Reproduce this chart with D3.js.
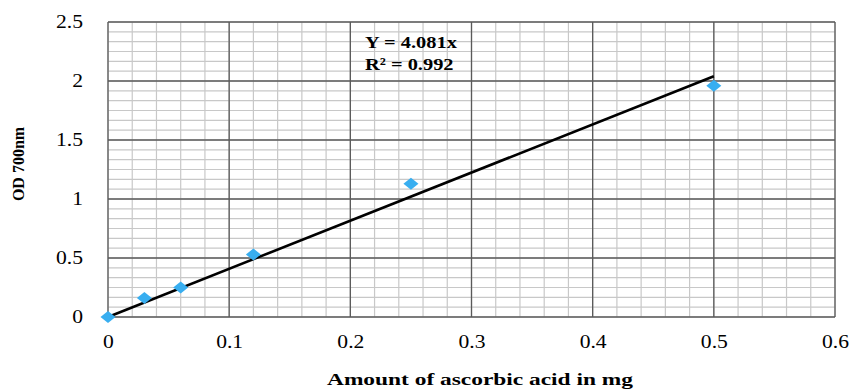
<!DOCTYPE html>
<html>
<head>
<meta charset="utf-8">
<script src="https://cdn.jsdelivr.net/npm/d3@7"></script>
<style>
  body { margin: 0; background: #fff; }
  svg { display: block; }
  text { font-family: "Liberation Serif", "Times New Roman", serif; fill: #000; }
</style>
</head>
<body>
<svg id="chart"></svg>
<script>
const width = 853;
const height = 390;

// data
const amounts = [0, 0.03, 0.06, 0.12, 0.25, 0.5];
const odValues = [0, 0.16, 0.25, 0.53, 1.13, 1.96];
const slope = 4.081;
const xTicks = [0, 0.1, 0.2, 0.3, 0.4, 0.5, 0.6];
const yTicks = [0, 0.5, 1, 1.5, 2, 2.5];
const eqLines = ["Y = 4.081x", "R\u00b2 = 0.992"];

const margin = { top: 22, right: 18, bottom: 73, left: 108 };
const stretch = 1.2; // the picture is a bit wider than tall

const svg = d3.select("#chart").attr("width", width).attr("height", height);

const x = d3.scaleLinear().domain([0, 0.6]).range([margin.left, width - margin.right]);
const y = d3.scaleLinear().domain([0, 2.5]).range([height - margin.bottom, margin.top]);

const plot = svg.append("g");

// minor grid
const xMinor = d3.range(0, 0.6001, 0.02);
const yMinor = d3.range(0, 2.5001, 0.5 / 6);

plot.append("g")
  .selectAll("line")
  .data(xMinor)
  .join("line")
  .attr("x1", (d) => x(d))
  .attr("x2", (d) => x(d))
  .attr("y1", y(0))
  .attr("y2", y(2.5))
  .attr("stroke", "#c8c8c8")
  .attr("stroke-width", 1.2);

plot.append("g")
  .selectAll("line")
  .data(yMinor)
  .join("line")
  .attr("x1", x(0))
  .attr("x2", x(0.6))
  .attr("y1", (d) => y(d))
  .attr("y2", (d) => y(d))
  .attr("stroke", "#c8c8c8")
  .attr("stroke-width", 1.2);

// major grid
plot.append("g")
  .selectAll("line")
  .data(xTicks)
  .join("line")
  .attr("x1", (d) => x(d))
  .attr("x2", (d) => x(d))
  .attr("y1", y(0))
  .attr("y2", y(2.5))
  .attr("stroke", "#5a5a5a")
  .attr("stroke-width", 1.3);

plot.append("g")
  .selectAll("line")
  .data(yTicks)
  .join("line")
  .attr("x1", x(0))
  .attr("x2", x(0.6))
  .attr("y1", (d) => y(d))
  .attr("y2", (d) => y(d))
  .attr("stroke", "#5a5a5a")
  .attr("stroke-width", 1.3);

// axes (labels only, grid handles the lines)
const xAxis = svg.append("g")
  .attr("transform", `translate(0,${y(0)})`)
  .call(d3.axisBottom(x).tickValues(xTicks).tickSize(0).tickPadding(0).tickFormat(d3.format("")));
xAxis.select(".domain").remove();
xAxis.selectAll("text")
  .attr("font-size", 18)
  .attr("font-family", "Liberation Serif")
  .attr("dy", null)
  .attr("y", 31)
  .attr("transform", `scale(${stretch},1)`);

const yAxis = svg.append("g")
  .attr("transform", `translate(${margin.left},0)`)
  .call(d3.axisLeft(y).tickValues(yTicks).tickSize(0).tickPadding(0).tickFormat(d3.format("")));
yAxis.select(".domain").remove();
yAxis.selectAll("text")
  .attr("font-size", 18)
  .attr("font-family", "Liberation Serif")
  .attr("x", -25 / stretch)
  .attr("dy", "0.32em")
  .attr("transform", `scale(${stretch},1)`);

// fitted line
const fit = d3.line()
  .x((d) => x(d))
  .y((d) => y(slope * d));

plot.append("path")
  .datum([0, d3.max(amounts)])
  .attr("d", fit)
  .attr("fill", "none")
  .attr("stroke", "#000")
  .attr("stroke-width", 2.6);

// markers
const points = amounts.map((a, i) => ({ a, od: odValues[i] }));
plot.append("g")
  .selectAll("path")
  .data(points)
  .join("path")
  .attr("transform", (d) => `translate(${x(d.a)},${y(d.od)})`)
  .attr("d", "M-7.5,0L0,-6L7.5,0L0,6Z")
  .attr("fill", "#38aef0");

// equation
svg.append("g")
  .selectAll("text")
  .data(eqLines)
  .join("text")
  .attr("transform", (d, i) => `translate(365,${48 + i * 22}) scale(${stretch},1)`)
  .attr("font-size", 17)
  .attr("font-weight", "bold")
  .text((d) => d);

// axis titles
svg.append("text")
  .attr("x", 327)
  .attr("y", 385)
  .attr("font-size", 17.5)
  .attr("font-weight", "bold")
  .attr("textLength", 306)
  .attr("lengthAdjust", "spacingAndGlyphs")
  .text("Amount of ascorbic acid in mg");

svg.append("text")
  .attr("transform", "translate(24,164) rotate(-90)")
  .attr("text-anchor", "middle")
  .attr("font-size", 16)
  .attr("font-weight", "bold")
  .text("OD 700nm");
</script>
</body>
</html>
